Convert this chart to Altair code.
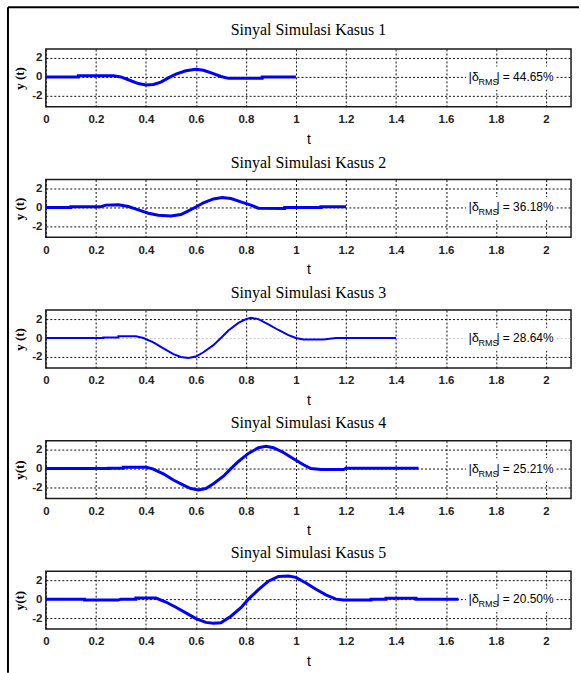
import altair as alt
import pandas as pd

# ---- signal samples for each simulation case (t in seconds, y(t)) ----
t1 = [0, 0.13, 0.13, 0.27, 0.30, 0.34, 0.37, 0.40, 0.43, 0.46, 0.49, 0.52, 0.56, 0.60,
      0.63, 0.67, 0.70, 0.73, 0.865, 0.865, 1.0]
y1 = [0, 0, 0.12, 0.12, 0.0, -0.4, -0.7, -0.85, -0.8, -0.55, -0.1, 0.3, 0.65, 0.82,
      0.7, 0.35, 0.05, -0.15, -0.15, 0, 0]

t2 = [0, 0.10, 0.10, 0.22, 0.24, 0.29, 0.33, 0.37, 0.41, 0.45, 0.50, 0.54, 0.57, 0.60,
      0.63, 0.67, 0.705, 0.74, 0.78, 0.82, 0.85, 0.955, 0.955, 1.10, 1.10, 1.2]
y2 = [0, 0, 0.08, 0.08, 0.25, 0.28, 0.1, -0.25, -0.6, -0.82, -0.9, -0.75, -0.35, 0.05,
      0.5, 0.9, 1.05, 0.95, 0.6, 0.25, -0.07, -0.1, 0, 0, 0.08, 0.08]

t3 = [0, 0.23, 0.23, 0.29, 0.29, 0.36, 0.39, 0.43, 0.47, 0.51, 0.54, 0.57, 0.60, 0.63,
      0.67, 0.70, 0.73, 0.77, 0.80, 0.82, 0.85, 0.89, 0.93, 0.97, 1.0, 1.03, 1.11, 1.16, 1.4]
y3 = [0, 0, 0.07, 0.07, 0.18, 0.18, 0.0, -0.45, -1.1, -1.7, -2.0, -2.1, -1.95, -1.5,
      -0.75, 0.0, 0.8, 1.6, 2.0, 2.15, 2.0, 1.45, 0.85, 0.3, 0.0, -0.15, -0.15, 0.0, 0.0]

t4 = [0, 0.25, 0.25, 0.31, 0.31, 0.40, 0.425, 0.47, 0.51, 0.55, 0.58, 0.61, 0.64, 0.67,
      0.71, 0.74, 0.77, 0.81, 0.85, 0.88, 0.91, 0.95, 0.99, 1.03, 1.06, 1.10, 1.19, 1.20, 1.49]
y4 = [0, 0, 0.03, 0.03, 0.15, 0.15, 0.0, -0.55, -1.2, -1.75, -2.1, -2.25, -2.1, -1.6,
      -0.8, 0.0, 0.75, 1.6, 2.2, 2.35, 2.2, 1.7, 1.05, 0.4, 0.0, -0.1, -0.1, 0.03, 0.03]

t5 = [0, 0.155, 0.155, 0.29, 0.30, 0.36, 0.36, 0.44, 0.48, 0.52, 0.56, 0.60, 0.64, 0.67,
      0.70, 0.74, 0.78, 0.81, 0.85, 0.89, 0.93, 0.97, 1.00, 1.04, 1.08, 1.12, 1.16, 1.19,
      1.30, 1.30, 1.36, 1.36, 1.48, 1.48, 1.65]
y5 = [0, 0, -0.1, -0.1, 0.0, 0.0, 0.12, 0.12, -0.3, -0.85, -1.45, -2.05, -2.45, -2.55,
      -2.5, -1.8, -0.9, 0.0, 1.0, 1.9, 2.4, 2.45, 2.3, 1.7, 1.05, 0.45, 0.0, -0.1,
      -0.1, 0.0, 0.0, 0.1, 0.1, 0.0, 0.0]

cases = [
    ("Sinyal Simulasi Kasus 1", "y (t)", t1, y1, "44.65%", 3),
    ("Sinyal Simulasi Kasus 2", "y (t)", t2, y2, "36.18%", 3),
    ("Sinyal Simulasi Kasus 3", "y (t)", t3, y3, "28.64%", 2),
    ("Sinyal Simulasi Kasus 4", "y(t)", t4, y4, "25.21%", 3),
    ("Sinyal Simulasi Kasus 5", "y(t)", t5, y5, "20.50%", 3),
]

x_ticks = [0, 0.2, 0.4, 0.6, 0.8, 1.0, 1.2, 1.4, 1.6, 1.8, 2.0]
y_ticks = [-2, 0, 2]

W, H = 527, 58
SANS = "Liberation Sans"
SERIF = "Liberation Serif"

x_scale = alt.Scale(domain=[0, 2.1], nice=False, zero=False)
y_scale = alt.Scale(domain=[-3.15, 2.95], nice=False, zero=False)

# plain hyphen for negative tick labels
HYPHEN = "replace(datum.label, '\u2212', '-')"


def panel(title, ylab, ts, ys, rms, lw, idx):
    df = pd.DataFrame({"t": ts, "y": ys, "i": list(range(len(ts)))})
    zero_grid = "#c8c8c8" if idx == 2 else "#111111"
    x_axis = alt.Axis(values=x_ticks, format="~g", title="t", grid=True,
                      gridDash=[2, 2], gridColor="#111111", gridWidth=1,
                      ticks=False, domain=False, labelFont=SANS, labelFontSize=11.5,
                      labelFontWeight="bold", labelColor="#222222", labelPadding=7,
                      titleFont=SANS, titleFontSize=14, titleFontWeight="normal",
                      titlePadding=7, labelFlush=False)
    y_axis = alt.Axis(values=y_ticks, format="~g", title=ylab, grid=True,
                      gridDash=[2, 2],
                      gridColor=alt.ConditionalAxisColor(
                          condition={"test": "datum.value === 0", "value": zero_grid},
                          value="#111111"),
                      gridWidth=1, ticks=False, domain=False, labelFont=SANS,
                      labelFontSize=11.5, labelFontWeight="bold", labelColor="#222222",
                      labelPadding=4, labelOverlap=False, labelExpr=HYPHEN,
                      titleFont=SERIF, titleFontSize=13,
                      titleFontWeight="bold", titlePadding=5)

    line = alt.Chart(df).mark_line(color="#0000ff", strokeWidth=lw).encode(
        x=alt.X("t:Q", scale=x_scale, axis=x_axis),
        y=alt.Y("y:Q", scale=y_scale, axis=y_axis),
        order="i:Q",
    )

    ann = pd.DataFrame({"x0": [1.68], "x1": [2.035], "y0": [1.1], "y1": [-1.35],
                        "tx": [1.69], "ty": [0.0]})
    ax_x = alt.X("tx:Q", scale=x_scale, axis=x_axis)
    ax_y = alt.Y("ty:Q", scale=y_scale, axis=y_axis)
    box = alt.Chart(ann).mark_rect(color="white").encode(
        x=alt.X("x0:Q", scale=x_scale, axis=x_axis), x2="x1:Q",
        y=alt.Y("y0:Q", scale=y_scale, axis=y_axis), y2="y1:Q")
    t_a = alt.Chart(ann).mark_text(text="|δ", align="left", baseline="middle",
                                   font=SANS, fontSize=13, color="black").encode(
        x=ax_x, y=ax_y)
    t_b = alt.Chart(ann).mark_text(text="RMS", align="left", baseline="middle",
                                   font=SANS, fontSize=9, color="black",
                                   dx=10, dy=5).encode(x=ax_x, y=ax_y)
    t_c = alt.Chart(ann).mark_text(text="| = " + rms, align="left", baseline="middle",
                                   font=SANS, fontSize=12, color="black",
                                   dx=28).encode(x=ax_x, y=ax_y)

    layers = [line, box, t_a, t_b, t_c]
    title_offset = 9
    if idx == 0:
        # outer figure frame (left and top edges)
        frame_left = alt.Chart(ann).mark_rule(color="black", strokeWidth=2).encode(
            x=alt.value(-38), y=alt.value(-42), y2=alt.value(626))
        frame_top = alt.Chart(ann).mark_rule(color="black", strokeWidth=2).encode(
            x=alt.value(-38), x2=alt.value(535), y=alt.value(-42))
        layers += [frame_left, frame_top]
        title_offset = -32

    return alt.layer(*layers).properties(
        width=W, height=H,
        title=alt.TitleParams(title, font=SERIF, fontSize=16, fontWeight="normal",
                              color="black", anchor="middle", offset=title_offset,
                              frame="group"),
    )


charts = [panel(*c, idx=k) for k, c in enumerate(cases)]

chart = alt.vconcat(*charts, spacing=73, bounds="flush").properties(
    padding={"left": 6, "top": 4, "right": 0, "bottom": 0},
    background="white",
).configure_view(stroke="#1a1a1a", strokeWidth=1.5)

chart.save("out.html", embed_options={"renderer": "svg", "actions": False})
